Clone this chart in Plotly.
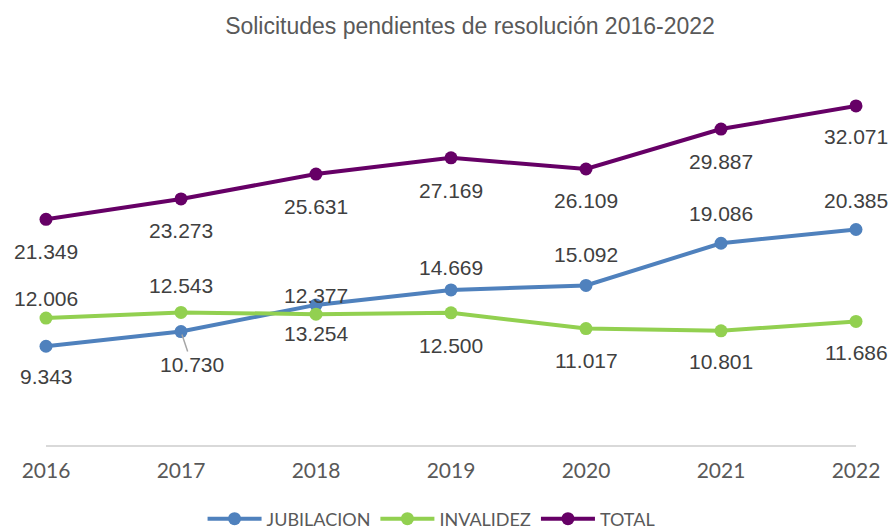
import plotly.graph_objects as go

years = [2016, 2017, 2018, 2019, 2020, 2021, 2022]
jubilacion = [9343, 10730, 13254, 14669, 15092, 19086, 20385]
invalidez = [12006, 12543, 12377, 12500, 11017, 10801, 11686]
total = [21349, 23273, 25631, 27169, 26109, 29887, 32071]

title_text = "Solicitudes pendientes de resolución 2016-2022"
names = ["JUBILACION", "INVALIDEZ", "TOTAL"]
colors = ["#4F81BD", "#92D050", "#660066"]

# vertical label offsets in px (positive = below point)
jub_shift = [30, 33, 29, -22, -31, -30, -29]
inv_shift = [-20, -27, -19, 33, 32, 31, 31]
tot_shift = [32, 32, 32, 33, 32, 32, 31]

def fmt(v):
    return f"{v:,}".replace(",", ".")

fig = go.Figure()
for name, vals, col in zip(names, [jubilacion, invalidez, total], colors):
    fig.add_trace(go.Scatter(
        x=years, y=vals, name=name, mode="lines+markers",
        line=dict(color=col, width=4),
        marker=dict(color=col, size=13),
        cliponaxis=False, hoverinfo="x+y",
    ))

label_font = dict(family="Liberation Sans, Arial, sans-serif", size=21, color="#404040")
annotations = []
for vals, shifts in [(jubilacion, jub_shift), (invalidez, inv_shift), (total, tot_shift)]:
    for i, (yr, v, s) in enumerate(zip(years, vals, shifts)):
        if vals is jubilacion and yr == 2017:
            annotations.append(dict(
                x=yr, y=v, xref="x", yref="y", text=fmt(v), showarrow=True,
                arrowhead=0, arrowwidth=1.5, arrowcolor="#A6A6A6",
                ax=11, ay=s, standoff=3, font=label_font,
            ))
        else:
            annotations.append(dict(
                x=yr, y=v, xref="x", yref="y", text=fmt(v), showarrow=False,
                yshift=-s, font=label_font,
            ))

fig.update_layout(
    width=893, height=529,
    margin=dict(l=46, r=37, t=75, b=84, autoexpand=False),
    paper_bgcolor="white", plot_bgcolor="white",
    title=dict(text=title_text, x=470 / 893, xref="container", xanchor="center",
               y=1 - 26 / 529, yref="container", yanchor="middle",
               font=dict(family="Liberation Sans, Arial, sans-serif", size=23, color="#595959")),
    xaxis=dict(range=[2016, 2022], tickvals=years, ticktext=[str(y) for y in years],
               showgrid=False, zeroline=False, showline=True, linecolor="#D9D9D9",
               linewidth=1.5, ticks="", ticklabelstandoff=6, automargin=False,
               tickfont=dict(family="Lato, Calibri, sans-serif", size=21, color="#595959")),
    yaxis=dict(range=[0, 35000], visible=False, showgrid=False, zeroline=False,
               automargin=False),
    legend=dict(orientation="h", x=0.476, xanchor="center", y=-0.2, yanchor="middle",
                font=dict(family="Lato, Calibri, sans-serif", size=18, color="#595959"),
                itemwidth=54),
    annotations=annotations,
    showlegend=True,
)

fig.write_html("out.html", config={"displayModeBar": False},
               post_script="document.body.style.margin='0px';document.body.style.overflow='hidden';")
